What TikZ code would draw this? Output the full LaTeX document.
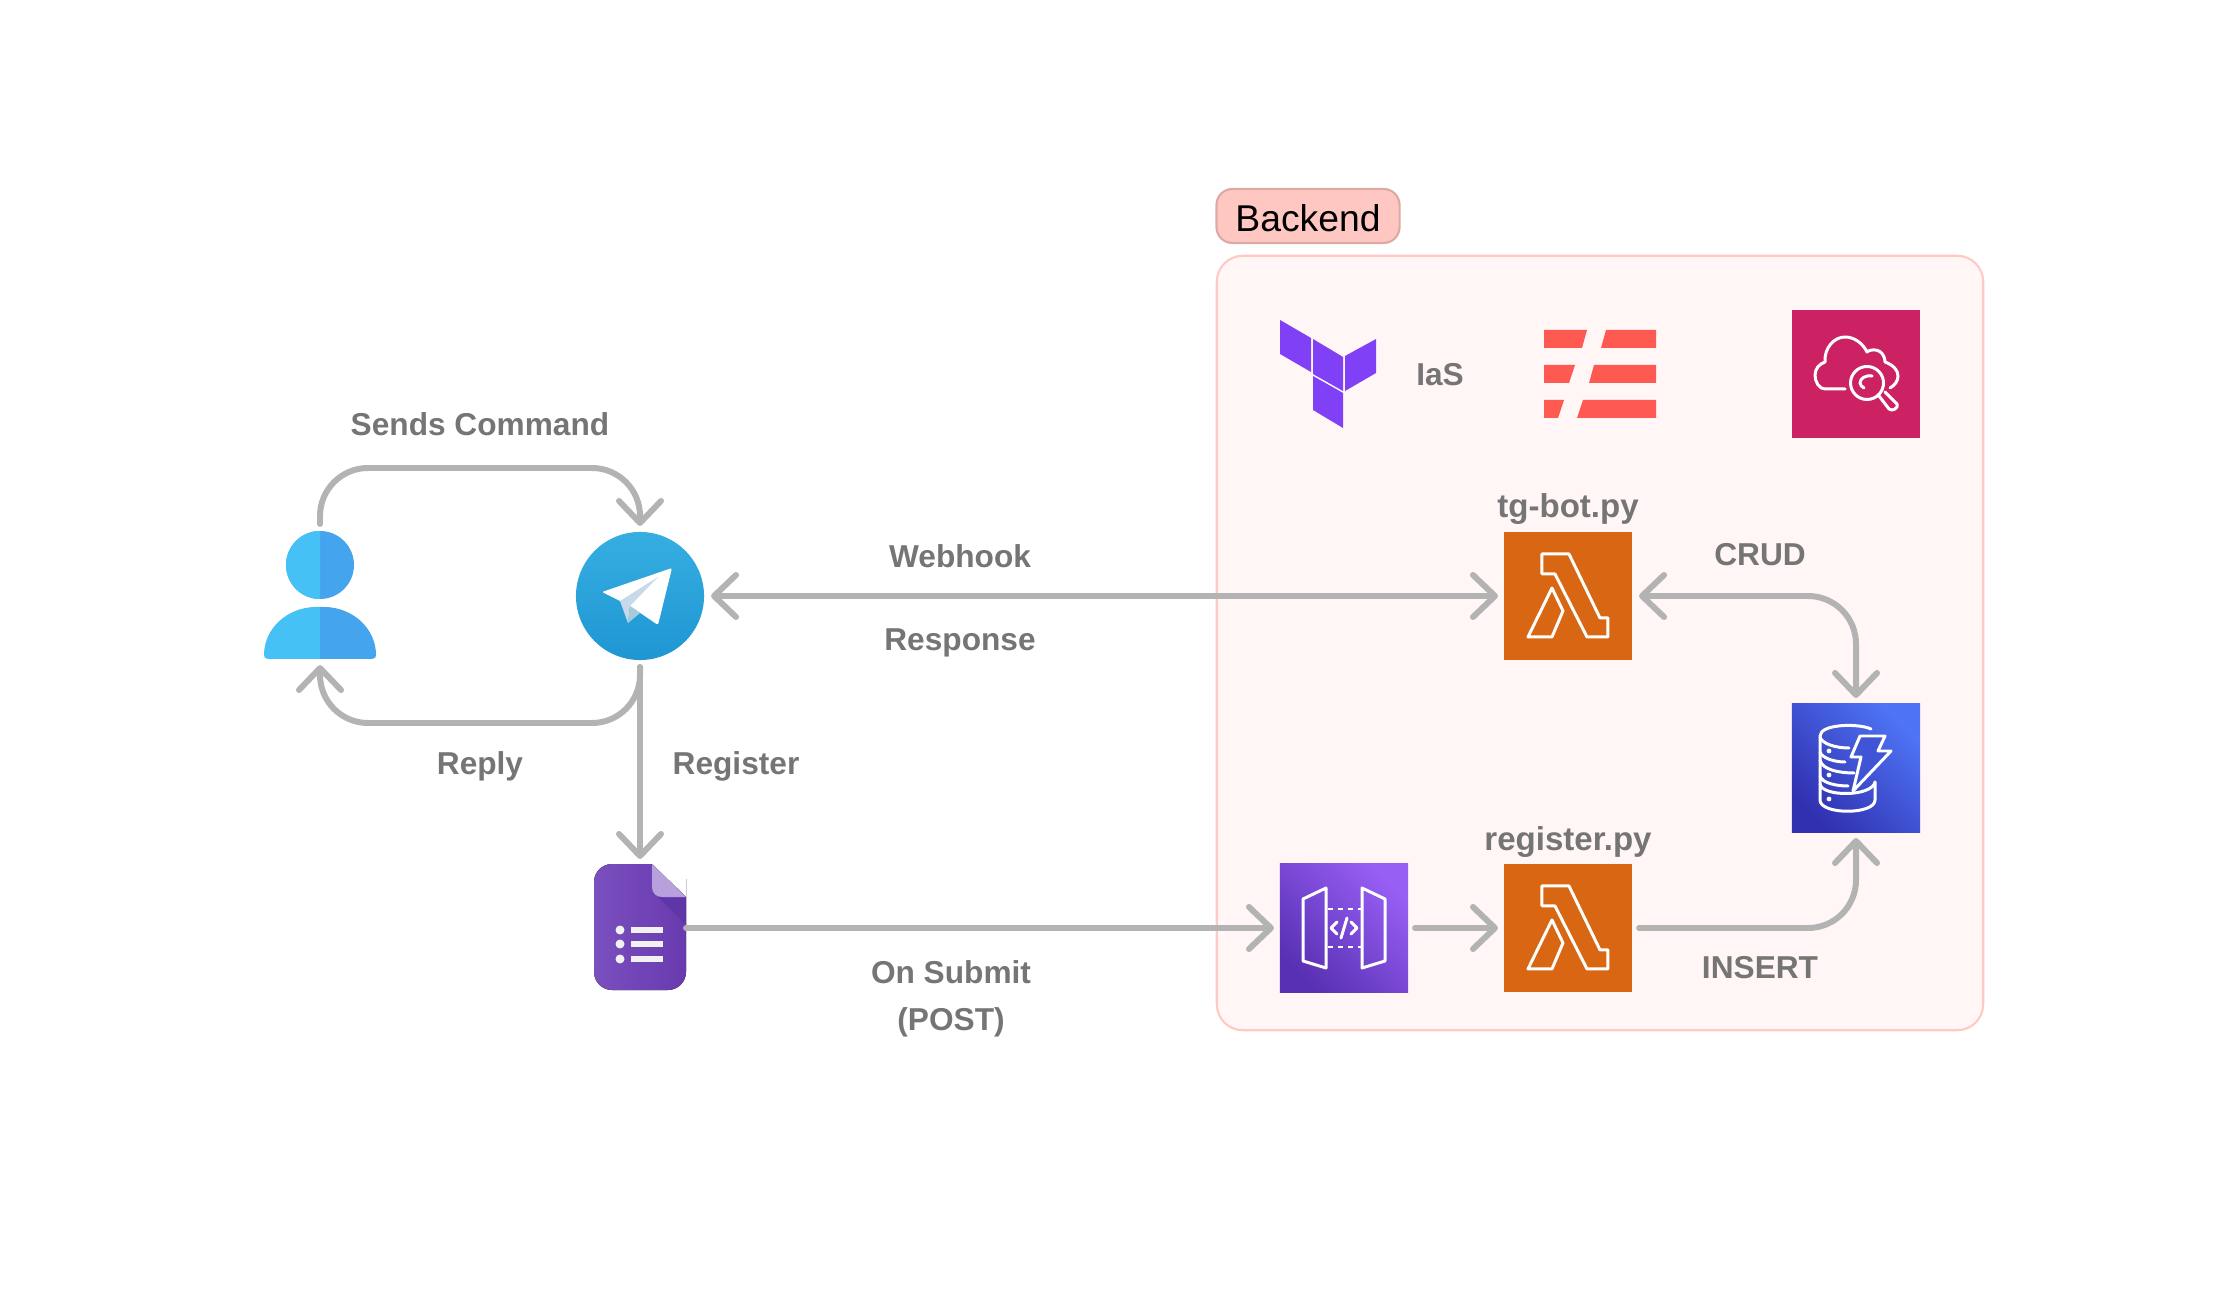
\documentclass[tikz,border=0pt]{standalone}
\usepackage{fontspec}
\setmainfont{Liberation Sans}
\usepackage{xcolor}
\usepackage{tikz}
\usetikzlibrary{arrows.meta,calc}
\definecolor{flowgray}{HTML}{B3B3B3}
\definecolor{labelgray}{HTML}{757575}
\definecolor{boxfill}{HTML}{FFF6F5}
\definecolor{boxline}{HTML}{FFC9C4}
\definecolor{tagfill}{HTML}{FFC7C2}
\definecolor{tagline}{HTML}{DDA9A5}
\definecolor{lambdaorange}{HTML}{D86613}
\definecolor{watchpink}{HTML}{CC2264}
\definecolor{personleft}{HTML}{45C1F5}
\definecolor{personright}{HTML}{45A4EE}
\definecolor{tfpurple}{HTML}{8040F5}
\definecolor{barred}{HTML}{FF5A52}
\definecolor{tgtop}{HTML}{37AEE2}
\definecolor{tgbottom}{HTML}{1E96D2}
\definecolor{planefold}{HTML}{C8DAEA}
\definecolor{planeshade}{HTML}{A9C9DD}
\definecolor{formleft}{HTML}{7A4FBE}
\definecolor{formright}{HTML}{683AAF}
\definecolor{formshade}{HTML}{5F36A8}
\definecolor{formfold}{HTML}{B8A0DC}
\definecolor{formlist}{HTML}{F1F1F1}
\definecolor{dynamolow}{HTML}{3030B0}
\definecolor{dynamohigh}{HTML}{4E74F5}
\definecolor{apilow}{HTML}{5830B2}
\definecolor{apihigh}{HTML}{985FF5}
\tikzset{
  flow/.style={draw=flowgray,line width=1.7pt,line cap=round,rounded corners=4.8mm,
    arrows={-Straight Barb[length=2.2mm,width=4.2mm,round]},shorten >=0.6mm,shorten <=0.7mm},
  flowboth/.style={flow,arrows={Straight Barb[length=2.2mm,width=4.2mm,round]-Straight Barb[length=2.2mm,width=4.2mm,round]}},
  flowlabel/.style={text=labelgray,font=\bfseries\fontsize{9}{13.4}\selectfont,align=center,inner sep=0pt},
  filelabel/.style={flowlabel,font=\bfseries\fontsize{9.4}{12}\selectfont},
  tile/.style={minimum width=1.28cm,minimum height=1.28cm,inner sep=0pt,outer sep=0pt},
  iconline/.style={draw=white,line width=0.85pt,line join=round,line cap=round},
}
\begin{document}
\begin{tikzpicture}[x=0.01cm,y=-0.01cm]
  \useasboundingbox (0,0) rectangle (2240,1292);
  % backend area
  \node[draw=boxline,fill=boxfill,line width=0.6pt,rounded corners=2.6mm,minimum width=7.66cm,minimum height=7.74cm,inner sep=0pt] (backendbox) at (1600,643) {};
  \node[draw=tagline,fill=tagfill,line width=0.6pt,rounded corners=1.6mm,minimum width=1.83cm,minimum height=0.54cm,inner sep=0pt,font=\fontsize{10.6}{12}\selectfont,text=black] (backendtag) at (1308,216) {\raisebox{-4.5pt}[0pt][0pt]{Backend}};
  % user
  \node[minimum width=1.12cm,minimum height=1.28cm,inner sep=0pt,outer sep=0pt] (person) at (320,595) {};
  \fill[personright] (320,565) circle (34);
  \begin{scope}
    \clip (280,520) rectangle (320,610);
    \fill[personleft] (320,565) circle (34);
  \end{scope}
  \fill[personleft] (320,659) -- (268,659) .. controls (265,659) and (264,657) .. (264,655) .. controls (264,628) and (288,607) .. (316,607) -- (320,607) -- cycle;
  \fill[personright] (320,659) -- (372,659) .. controls (375,659) and (376,657) .. (376,655) .. controls (376,628) and (352,607) .. (324,607) -- (320,607) -- cycle;
  % telegram
  \node[circle,tile,top color=tgtop,bottom color=tgbottom] (telegram) at (640,596) {};
  \fill[white,rounded corners=0.2mm] (602,592) -- (672,568) -- (658,625) -- (630,606) -- (620,601) -- cycle;
  \fill[planefold] (620,601) -- (658,577) -- (630,606) -- (628,623) -- cycle;
  \fill[planeshade] (630,606) -- (628,623) -- (640,613) -- cycle;
  % form
  \node[minimum width=0.92cm,minimum height=1.26cm,inner sep=0pt,outer sep=0pt] (gform) at (640,928) {};
  \fill[left color=formleft,right color=formright,rounded corners=1.8mm] (652,864) -- (594,864) -- (594,990) -- (686,990) -- (686,897) [sharp corners] -- (686,897) -- (652,864) -- cycle;
  \fill[formshade] (658,897) -- (686,897) -- (686,925) -- cycle;
  \fill[formfold] (652,864) -- (686,897) -- (662,897) .. controls (656,897) and (652,893) .. (652,887) -- cycle;
  \foreach \y in {930,944,959} {
    \fill[formlist] (620,\y) circle (4.5);
    \fill[formlist] (631,\y-3) rectangle (663,\y+3);
  }
  % aws tiles
  \node[tile,fill=watchpink] (cloudwatch) at (1856,374) {};
  \node[tile,fill=lambdaorange] (lambdabot) at (1568,596) {};
  \node[tile,fill=lambdaorange] (lambdareg) at (1568,928) {};
  \node[tile,left color=dynamolow,right color=dynamohigh,shading angle=135] (dynamo) at (1856,768) {};
  \node[tile,left color=apilow,right color=apihigh,shading angle=135] (apigw) at (1344,928) {};
  \foreach \t in {lambdabot,lambdareg} {
    \begin{scope}[shift={(\t.north west)}]
      \draw[iconline] (38,22) -- (65,22) -- (96,86) -- (104,86) -- (104,105) -- (83,105) -- (51,42) -- (38,42) -- cycle;
      \draw[iconline] (48,56) -- (59,79) -- (48,105) -- (24,105) -- cycle;
    \end{scope}
  }
  % api gateway icon
  \draw[iconline] (1303,899) -- (1326,888) -- (1326,968) -- (1303,961) -- cycle;
  \draw[iconline] (1362,888) -- (1385,899) -- (1385,961) -- (1362,968) -- cycle;
  \draw[iconline,dash pattern=on 0.05cm off 0.05cm,line cap=butt] (1328,909) -- (1361,909);
  \draw[iconline,dash pattern=on 0.05cm off 0.05cm,line cap=butt] (1328,947) -- (1361,947);
  \draw[iconline] (1337,922) -- (1331,928) -- (1337,934);
  \draw[iconline] (1351,922) -- (1357,928) -- (1351,934);
  \draw[iconline] (1347,918) -- (1341,938);
  % dynamodb icon
  \draw[iconline] (1871,729) .. controls (1858,723) and (1820,724) .. (1820,736) -- (1820,800) .. controls (1820,815) and (1875,815) .. (1875,800) -- (1875,782);
  \draw[iconline] (1820,737) .. controls (1822,744) and (1836,748) .. (1849,748);
  \draw[iconline] (1820,752) .. controls (1822,758) and (1834,762) .. (1845,762);
  \draw[iconline] (1820,760) .. controls (1822,770) and (1840,773) .. (1854,773);
  \draw[iconline] (1820,776) .. controls (1822,783) and (1836,786) .. (1848,786);
  \draw[iconline] (1820,784) .. controls (1822,797) and (1872,797) .. (1875,782);
  \fill[white] (1829,751) circle (2.4) (1829,775) circle (2.4) (1829,799) circle (2.4);
  \draw[iconline,fill=dynamolow!45!dynamohigh] (1860,736) -- (1885,736) -- (1878,751) -- (1891,751) -- (1853,791) -- (1861,757) -- (1851,757) -- cycle;
  % cloudwatch icon
  \draw[iconline] (1845,389) -- (1825,389) .. controls (1819,389) and (1815,382) .. (1815,375) .. controls (1815,369) and (1819,364) .. (1825,362) .. controls (1824,348) and (1834,337) .. (1845,337) .. controls (1855,337) and (1863,344) .. (1867,352) .. controls (1870,349) and (1884,347) .. (1885,362) .. controls (1893,365) and (1898,370) .. (1898,376) .. controls (1898,381) and (1895,385) .. (1890,388);
  \draw[iconline,fill=watchpink] (1867,383) circle (16.5);
  \draw[iconline] (1872,376) .. controls (1866,375) and (1860,378) .. (1860,383) .. controls (1860,385) and (1862,387) .. (1864,388);
  \draw[iconline] (1879,396) -- (1889,409) .. controls (1892,412) and (1899,408) .. (1897,404) -- (1885,392);
  % terraform
  \fill[tfpurple] (1280,320) -- (1311,338) -- (1311,372) -- (1280,354) -- cycle;
  \fill[tfpurple] (1313,339) -- (1343,357) -- (1343,391) -- (1313,374) -- cycle;
  \fill[tfpurple] (1345,356) -- (1376,339) -- (1376,373) -- (1345,391) -- cycle;
  \fill[tfpurple] (1313,376) -- (1343,393) -- (1343,428) -- (1313,410) -- cycle;
  % red bars
  \fill[barred] (1544,330) -- (1587,330) -- (1582,348) -- (1544,348) -- cycle;
  \fill[barred] (1606,330) -- (1656,330) -- (1656,348) -- (1601,348) -- cycle;
  \fill[barred] (1544,365) -- (1575,365) -- (1569,383) -- (1544,383) -- cycle;
  \fill[barred] (1594,365) -- (1656,365) -- (1656,383) -- (1589,383) -- cycle;
  \fill[barred] (1544,400) -- (1564,400) -- (1558,418) -- (1544,418) -- cycle;
  \fill[barred] (1583,400) -- (1656,400) -- (1656,418) -- (1577,418) -- cycle;
  % connectors
  \coordinate (sendstop) at (480,468);
  \coordinate (replybot) at (480,723);
  \draw[flow] (person.north) |- (sendstop) -| (telegram.north);
  \draw[flow] (telegram.south) |- (replybot) -| (person.south);
  \draw[flow] (telegram.south) -- (gform.north);
  \draw[flowboth] (telegram.east) -- (lambdabot.west);
  \draw[flowboth] (lambdabot.east) -| (dynamo.north);
  \draw[flow,shorten <=0mm] (gform.east) -- (apigw.west);
  \draw[flow] (apigw.east) -- (lambdareg.west);
  \draw[flow] (lambdareg.east) -| (dynamo.south);
  % labels
  \node[flowlabel] (sendslabel) at (480,424) {Sends Command};
  \node[flowlabel] (replylabel) at (480,766) {Reply};
  \node[flowlabel] (registerlabel) at (736,766) {Register};
  \node[flowlabel] (webhooklabel) at (960,556) {Webhook};
  \node[flowlabel] (responselabel) at (960,643) {Response};
  \node[flowlabel] (submitlabel) at (951,999) {On Submit\\(POST)};
  \node[flowlabel] (iaslabel) at (1440,375) {IaS};
  \node[filelabel] (botlabel) at (1568,509) {tg-bot.py};
  \node[filelabel] (reglabel) at (1568,842) {register.py};
  \node[flowlabel] (crudlabel) at (1760,555) {CRUD};
  \node[flowlabel] (insertlabel) at (1760,968) {INSERT};
\end{tikzpicture}
\end{document}
